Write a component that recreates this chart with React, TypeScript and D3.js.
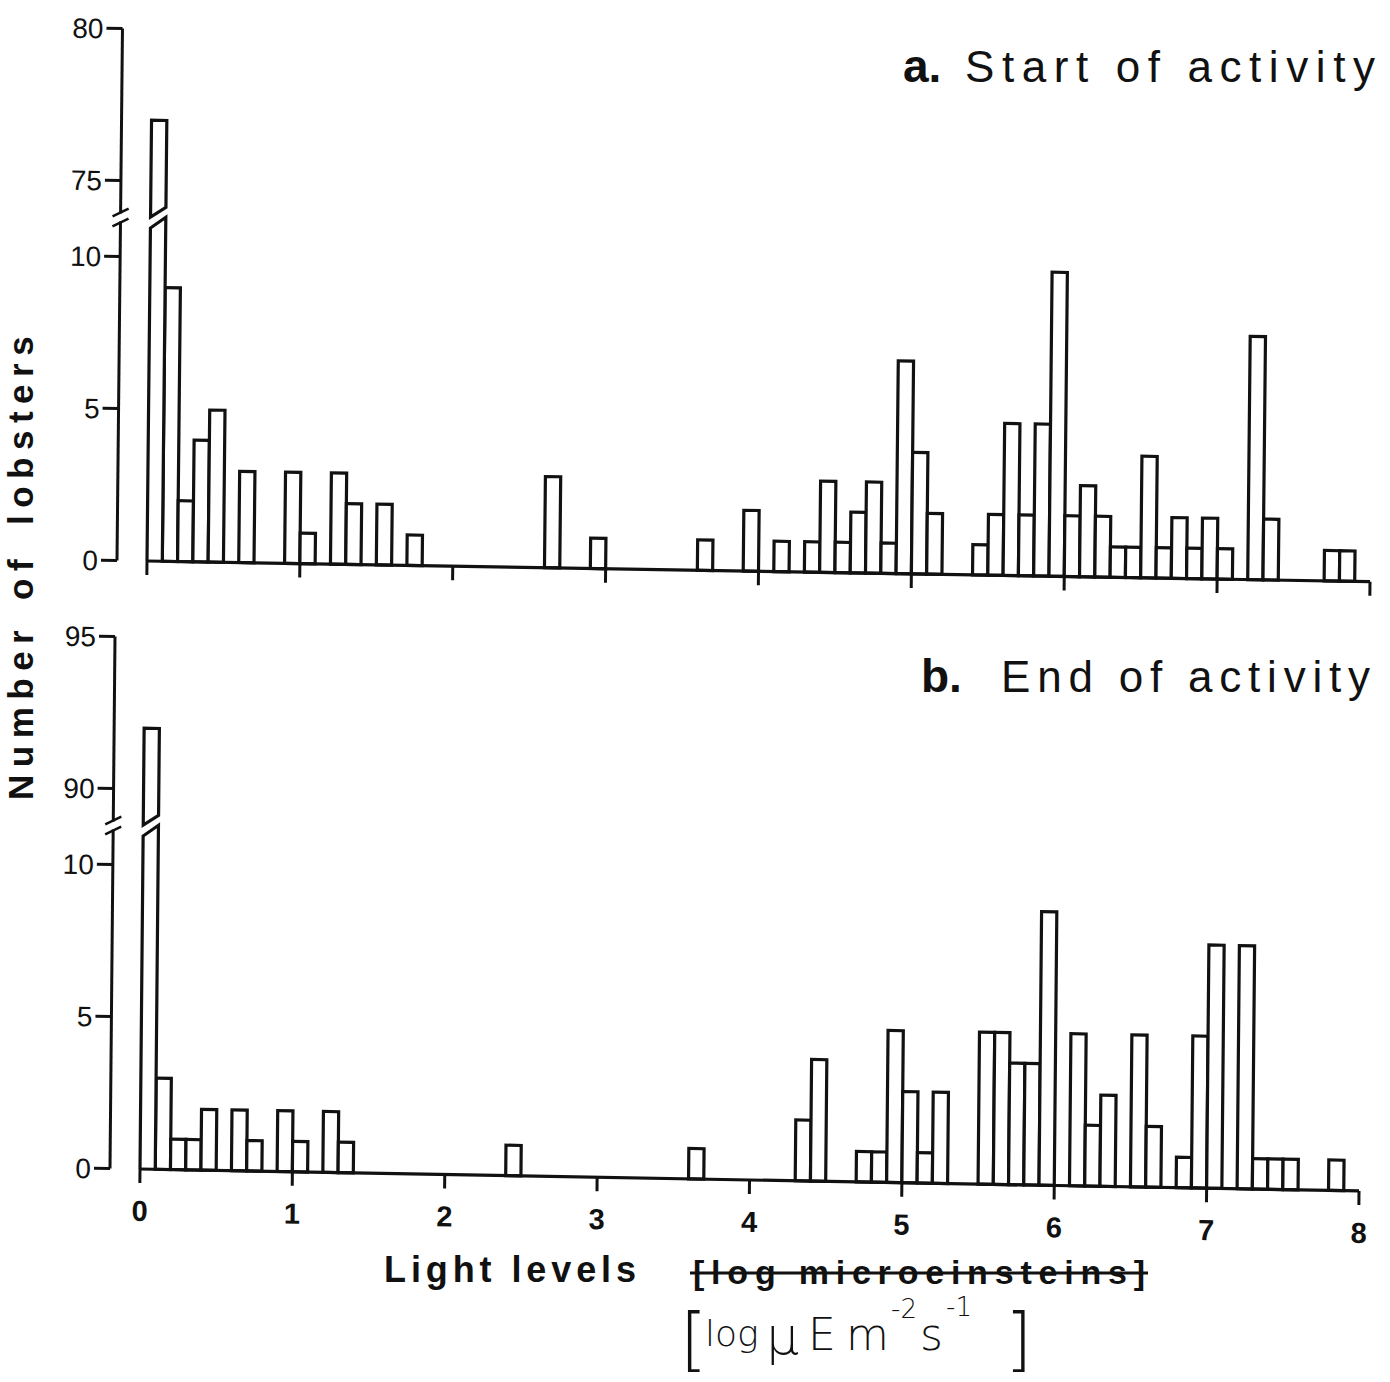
import React, { useEffect, useRef } from "react";
import * as d3 from "d3";

// a. Start of activity: lower edge of each non-empty 0.1 bin and its count
const startBins = [0, 0.1, 0.2, 0.3, 0.4, 0.6, 0.9, 1.0, 1.2, 1.3, 1.5, 1.7, 2.6, 2.9, 3.6, 3.9, 4.1, 4.3, 4.4, 4.5, 4.6, 4.7, 4.8, 4.9, 5.0, 5.1, 5.4, 5.5, 5.6, 5.7, 5.8, 5.9, 6.0, 6.1, 6.2, 6.3, 6.4, 6.5, 6.6, 6.7, 6.8, 6.9, 7.0, 7.2, 7.3, 7.7, 7.8];
const startCounts = [77, 9, 2, 4, 5, 3, 3, 1, 3, 2, 2, 1, 3, 1, 1, 2, 1, 1, 3, 1, 2, 3, 1, 7, 4, 2, 1, 2, 5, 2, 5, 10, 2, 3, 2, 1, 1, 4, 1, 2, 1, 2, 1, 8, 2, 1, 1];

// b. End of activity
const endBins = [0, 0.1, 0.2, 0.3, 0.4, 0.6, 0.7, 0.9, 1.0, 1.2, 1.3, 2.4, 3.6, 4.3, 4.4, 4.7, 4.8, 4.9, 5.0, 5.1, 5.2, 5.5, 5.6, 5.7, 5.8, 5.9, 6.1, 6.2, 6.3, 6.5, 6.6, 6.8, 6.9, 7.0, 7.2, 7.3, 7.4, 7.5, 7.8];
const endCounts = [92, 3, 1, 1, 2, 2, 1, 2, 1, 2, 1, 1, 1, 2, 4, 1, 1, 5, 3, 1, 3, 5, 5, 4, 4, 9, 5, 2, 3, 5, 2, 1, 5, 8, 8, 1, 1, 1, 1];

const xTicks = [0, 1, 2, 3, 4, 5, 6, 7, 8];
const lowTicks = [0, 5, 10];
const startHighTicks = [75, 80];
const endHighTicks = [90, 95];
const yWords = ["Number", "of", "lobsters"];
const BIN = 0.1;

const FONT = "'Liberation Sans', Arial, Helvetica, sans-serif";
const HAND = "'DejaVu Sans', sans-serif";

function drawPanel(svg, o) {
  const g = svg.append("g")
    .attr("transform", `matrix(1, ${o.sy}, ${o.sx}, 1, ${o.ox}, ${o.oy})`);

  const x = d3.scaleLinear().domain([0, 8]).range([0, o.width]);
  const yLow = d3.scaleLinear().domain([0, 10]).range([0, -304]);
  const yHigh = d3.scaleLinear().domain(d3.extent(o.highTicks)).range([-380, -532]);
  const axisX = -30;

  const data = o.bins.map((b, i) => ({ b, c: o.counts[i] }));
  const small = data.filter(d => d.c < o.highTicks[0] - 10);
  const big = data.filter(d => d.c >= o.highTicks[0] - 10);

  g.selectAll("rect.bar").data(small).enter().append("rect")
    .attr("class", "bar")
    .attr("x", d => x(d.b))
    .attr("y", d => yLow(d.c))
    .attr("width", d => x(d.b + BIN) - x(d.b))
    .attr("height", d => -yLow(d.c))
    .attr("fill", "white")
    .attr("stroke", "#111")
    .attr("stroke-width", 3.2);

  // broken tall bar
  big.forEach(d => {
    const x0 = x(d.b), x1 = x(d.b + BIN);
    g.append("path")
      .attr("d", `M${x0},0 L${x0},-333 L${x1},-344 L${x1},0`)
      .attr("fill", "white").attr("stroke", "#111").attr("stroke-width", 3.2);
    g.append("path")
      .attr("d", `M${x0},-344 L${x0},${yHigh(d.c)} L${x1},${yHigh(d.c)} L${x1},-354 Z`)
      .attr("fill", "white").attr("stroke", "#111").attr("stroke-width", 3.2);
  });

  // x axis
  g.append("line").attr("x1", 0).attr("x2", o.width).attr("y1", 0).attr("y2", 0)
    .attr("stroke", "#111").attr("stroke-width", 3.2);
  g.selectAll("line.xt").data(xTicks).enter().append("line")
    .attr("class", "xt")
    .attr("x1", d => x(d)).attr("x2", d => x(d))
    .attr("y1", 0).attr("y2", 14)
    .attr("stroke", "#111").attr("stroke-width", 3);
  if (o.xLabels) {
    g.selectAll("text.xl").data(xTicks).enter().append("text")
      .attr("class", "xl")
      .attr("x", d => x(d)).attr("y", 52)
      .attr("text-anchor", "middle")
      .attr("font-family", FONT).attr("font-weight", "bold").attr("font-size", 29)
      .attr("fill", "#111")
      .text(d => d);
  }

  // y axis with break
  g.append("line").attr("x1", axisX).attr("x2", axisX).attr("y1", 0).attr("y2", -339)
    .attr("stroke", "#111").attr("stroke-width", 3);
  g.append("line").attr("x1", axisX).attr("x2", axisX).attr("y1", -347).attr("y2", yHigh(o.highTicks[1]))
    .attr("stroke", "#111").attr("stroke-width", 3);
  [-338, -348].forEach(c => {
    g.append("line")
      .attr("x1", axisX - 8).attr("y1", c + 4)
      .attr("x2", axisX + 8).attr("y2", c - 4)
      .attr("stroke", "#111").attr("stroke-width", 2.5);
  });

  const ticks = lowTicks.map(v => ({ v, y: yLow(v) }))
    .concat(o.highTicks.map(v => ({ v, y: yHigh(v) })));
  g.selectAll("line.yt").data(ticks).enter().append("line")
    .attr("class", "yt")
    .attr("x1", axisX - 16).attr("x2", axisX)
    .attr("y1", d => d.y).attr("y2", d => d.y)
    .attr("stroke", "#111").attr("stroke-width", 3);
  g.selectAll("text.yl").data(ticks).enter().append("text")
    .attr("class", "yl")
    .attr("x", axisX - 19).attr("y", d => d.y)
    .attr("dy", "0.36em")
    .attr("text-anchor", "end")
    .attr("font-family", FONT).attr("font-size", 28)
    .attr("fill", "#111")
    .text(d => d.v);
}

export default function App() {
  const ref = useRef(null);

  useEffect(() => {
    const svg = d3.select(ref.current);
    svg.selectAll("*").remove();
    svg.append("rect").attr("width", 1390).attr("height", 1382).attr("fill", "white");

    drawPanel(svg, {
      ox: 147, oy: 561, width: 1223, sy: 0.0169, sx: -0.0103,
      bins: startBins, counts: startCounts, highTicks: startHighTicks, xLabels: false,
    });
    drawPanel(svg, {
      ox: 140, oy: 1169, width: 1219, sy: 0.018, sx: -0.0094,
      bins: endBins, counts: endCounts, highTicks: endHighTicks, xLabels: true,
    });

    const txt = (x, y, s, size, weight, len) => {
      const t = svg.append("text")
        .attr("x", x).attr("y", y)
        .attr("font-family", FONT).attr("font-size", size).attr("font-weight", weight)
        .attr("fill", "#111")
        .text(s);
      if (len) t.attr("textLength", len).attr("lengthAdjust", "spacing");
      return t;
    };

    // panel titles
    txt(903, 82, "a.", 46, "bold", null);
    txt(965, 82, "Start of activity", 44, "normal", 410);
    txt(921, 692, "b.", 46, "bold", null);
    txt(1001, 692, "End of activity", 44, "normal", 369);

    // y label, words spread along the axis
    const yl = svg.append("text")
      .attr("transform", "translate(33,800) rotate(-90)")
      .attr("font-family", FONT).attr("font-size", 35).attr("font-weight", "bold")
      .attr("letter-spacing", 7.5)
      .attr("fill", "#111");
    const wordPos = [0, 200, 275];
    yWords.forEach((w, i) => yl.append("tspan").attr("x", wordPos[i]).text(w));

    // x label
    txt(384, 1282, "Light levels", 36, "bold", 252);
    txt(693, 1284, "[log microeinsteins]", 34, "bold", 452);
    svg.append("line").attr("x1", 690).attr("x2", 1148).attr("y1", 1273).attr("y2", 1273)
      .attr("stroke", "#111").attr("stroke-width", 3);

    // handwritten correction, one text so the pieces do not collide
    const hw = svg.append("text")
      .attr("y", 1350)
      .attr("font-family", HAND).attr("font-weight", 200)
      .attr("fill", "#111");
    const parts = [
      { s: "[", x: 680, dy: 13, size: 70 },
      { s: "log", x: 705, dy: -17, size: 36 },
      { s: "μ", x: 766, dy: 8, size: 52 },
      { s: "E", x: 808, dy: -4, size: 44 },
      { s: "m", x: 846, dy: 0, size: 44 },
      { s: "-2", x: 891, dy: -32, size: 26 },
      { s: "s", x: 920, dy: 32, size: 44 },
      { s: "-1", x: 946, dy: -34, size: 26 },
      { s: "]", x: 1005, dy: 47, size: 70 },
    ];
    parts.forEach(p => hw.append("tspan")
      .attr("x", p.x).attr("dy", p.dy).attr("font-size", p.size).text(p.s));
  }, []);

  return (
    <svg ref={ref} width={1390} height={1382}
      style={{ position: "absolute", left: 0, top: 0, background: "white" }} />
  );
}
